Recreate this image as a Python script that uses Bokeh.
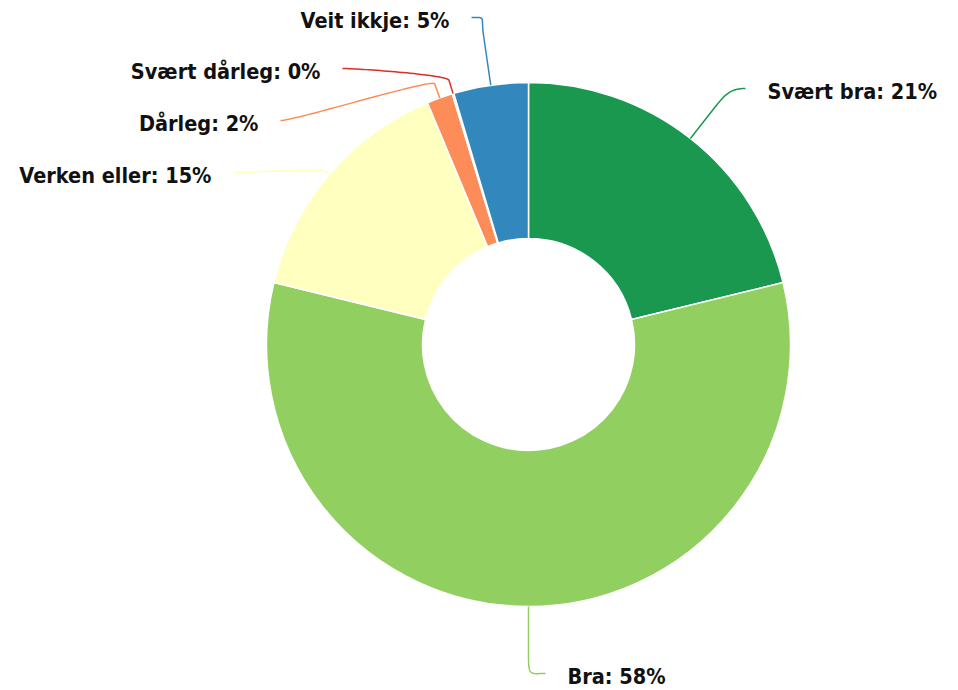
import numpy as np
from bokeh.plotting import figure
from bokeh.models import ColumnDataSource, Range1d
from bokeh.core.properties import value
from bokeh.embed import file_html
from bokeh.resources import INLINE

# ---- data ----
categories = ["Svært bra", "Bra", "Verken eller", "Dårleg", "Svært dårleg", "Veit ikkje"]
shares = [21.2, 57.6, 14.9, 1.6, 0.1, 4.6]
colors = ["#1a9850", "#91cf60", "#ffffbf", "#fc8d59", "#d73027", "#3288bd"]

# ---- layout (screen pixels) ----
W, H = 958, 690
CX, CY = 528, 344          # pie centre (screen px)
R_OUT, R_IN = 262, 106
# connector end relative to pie centre (screen px), knee length
label_end = [(217, -256), (17, 329), (-295, -172), (-248, -224), (-186, -276), (-57, -327)]
knee = [40, 50, 5, 15, 14, 50]
TEXT_GAP = 22
BASE_OFF = 3

def sy(y):  # screen y -> data y
    return H - y

vals = np.array(shares, dtype=float)
frac = vals / vals.sum()
cum_end = np.cumsum(frac)
cum_start = cum_end - frac
start_angle = np.pi / 2 - 2 * np.pi * cum_start
end_angle = np.pi / 2 - 2 * np.pi * cum_end
pct = [int(np.floor(f * 100 + 0.5)) for f in frac]
texts = [f"{c}: {p}%" for c, p in zip(categories, pct)]

p = figure(width=W, height=H, output_backend="svg", toolbar_location=None,
           x_range=Range1d(0, W), y_range=Range1d(0, H),
           min_border=0, outline_line_color=None)
p.axis.visible = False
p.grid.visible = False
p.background_fill_color = "white"
p.border_fill_color = "white"

src = ColumnDataSource(dict(start=start_angle, end=end_angle, color=colors))
p.annular_wedge(x=CX, y=sy(CY), inner_radius=R_IN, outer_radius=R_OUT,
                start_angle="start", end_angle="end", direction="clock",
                fill_color="color", line_color="white", line_width=1.5, source=src)

# connectors
xs, ys = [], []
tx, ty, align = [], [], []
t = np.linspace(0, 1, 40)
for i in range(len(categories)):
    theta = 2 * np.pi * (cum_start[i] + frac[i] / 2)
    u = np.array([np.sin(theta), -np.cos(theta)])
    p0 = np.array([CX, CY]) + R_OUT * u
    p1 = p0 + knee[i] * u
    L = np.array([CX + label_end[i][0], CY + label_end[i][1]])
    left = L[0] < CX
    c1 = p1 + u * max(knee[i] * 0.4, 4)
    c2 = L + np.array([15 if left else -15, 0])
    bez = (((1 - t) ** 3)[:, None] * p1 + (3 * (1 - t) ** 2 * t)[:, None] * c1
           + (3 * (1 - t) * t ** 2)[:, None] * c2 + (t ** 3)[:, None] * L)
    pts = np.vstack([p0, bez])
    xs.append(list(pts[:, 0]))
    ys.append([sy(v) for v in pts[:, 1]])
    tx.append(L[0] - TEXT_GAP if left else L[0] + TEXT_GAP)
    ty.append(sy(L[1] + BASE_OFF))
    align.append("right" if left else "left")

p.multi_line(xs=xs, ys=ys, line_color=colors, line_width=1.5)

lsrc = ColumnDataSource(dict(x=tx, y=ty, text=texts, align=align))
p.text(x="x", y="y", text="text", text_align="align", text_baseline="alphabetic",
       text_font=value("DejaVu Sans Condensed"), text_font_style="bold",
       text_font_size="21.5px", text_color="#111111", source=lsrc)

open("out.html", "w").write(file_html(p, INLINE))
